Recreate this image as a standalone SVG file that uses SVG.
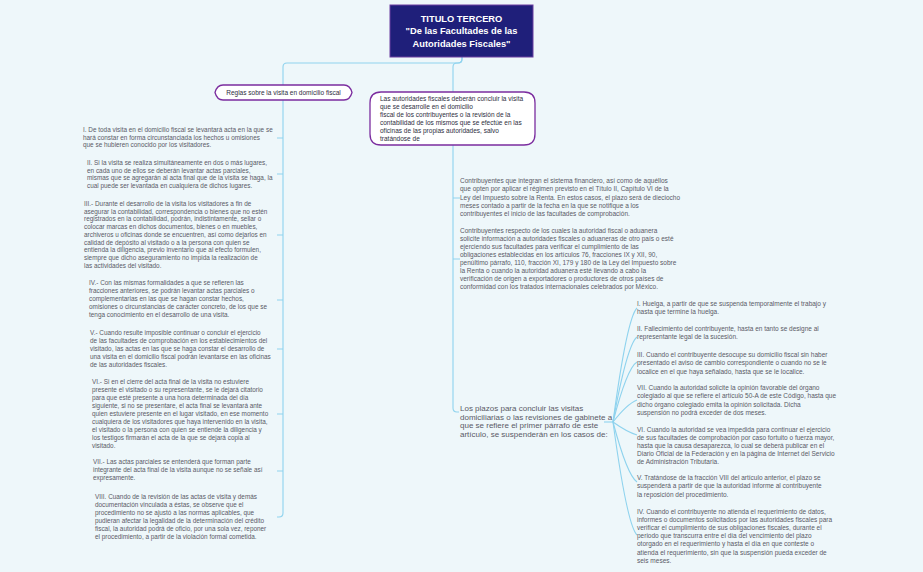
<svg xmlns="http://www.w3.org/2000/svg" width="923" height="572" viewBox="0 0 923 572">
<style>
.bg{fill:#eef7fa}
.ln{fill:none;stroke:#8fd3ee;stroke-width:1.1}
.t{font-family:"Liberation Sans",Arial,sans-serif;font-size:6.4px;fill:#5a5a66}
.m{font-family:"Liberation Sans",Arial,sans-serif;font-size:6.5px;fill:#5a5a66}
.p{font-family:"Liberation Sans",Arial,sans-serif;font-size:8px;fill:#5a5a66}
.nd{fill:#ffffff;stroke:#7b2d9f;stroke-width:1.3}
.nt{font-family:"Liberation Sans",Arial,sans-serif;font-size:6.5px;fill:#2e2e40}
.tt{font-family:"Liberation Sans",Arial,sans-serif;font-size:9.3px;font-weight:bold;fill:#ffffff}
</style>
<rect class="bg" x="0" y="0" width="923" height="572"/>
<g id="connectors">
<path class="ln" d="M462,57 V59 Q462,63 458,63 H287 Q283,63 283,67 V85"/>
<path class="ln" d="M462,57 V59 Q462,63 458,63 H457 Q453,63 453,67 V92"/>
<path class="ln" d="M283,100 V513 Q283,517 279,517 H277"/>
<path class="ln" d="M277,138 H283 M277,174 H283 M277,235 H283 M277,300 H283 M277,349 H283 M277,414 H283 M277,471 H283"/>
<path class="ln" d="M453,145 V408 Q453,412 457,412 H459"/>
<path class="ln" d="M453,198 H460 M453,259 H460"/>
<path class="ln" d="M604,422 H613"/>
<path class="ln" d="M613,422 Q627,318 637,308"/>
<path class="ln" d="M613,422 Q627,345 637,337"/>
<path class="ln" d="M613,422 Q627,368 637,362"/>
<path class="ln" d="M613,422 Q627,404 637,400"/>
<path class="ln" d="M613,422 Q627,432 637,435"/>
<path class="ln" d="M613,422 Q627,475 637,482"/>
<path class="ln" d="M613,422 Q627,525 637,535"/>
</g>
<g id="title">
<rect x="390" y="5" width="143" height="52" fill="#1f1f7a" stroke="#6b3fa0" stroke-width="1"/>
<text class="tt" text-anchor="middle"><tspan x="461.5" y="21.5">TITULO TERCERO</tspan><tspan x="461.5" y="34">"De las Facultades de las</tspan><tspan x="461.5" y="46.5">Autoridades Fiscales"</tspan></text>
</g>
<g id="reglas">
<path class="nd" d="M223,85 H344 Q350,85 352,92.5 Q350,100 344,100 H223 Q217,100 215,92.5 Q217,85 223,85 Z"/>
<text class="nt" x="283.5" y="95" text-anchor="middle" font-size="6.6px">Reglas sobre la visita en domicilio fiscal</text>
</g>
<g id="autoridades">
<path class="nd" d="M381,92 H524 Q535,92 535,103 V134 Q535,145 524,145 H381 Q370,145 370,134 V103 Q370,92 381,92 Z"/>
<text class="nt"><tspan x="380" y="100.5">Las autoridades fiscales deberán concluir la visita</tspan><tspan x="380" y="108.6">que se desarrolle en el domicilio</tspan><tspan x="380" y="116.7">fiscal de los contribuyentes o la revisión de la</tspan><tspan x="380" y="124.8">contabilidad de los mismos que se efectúe en las</tspan><tspan x="380" y="132.9">oficinas de las propias autoridades, salvo</tspan><tspan x="380" y="141">tratándose de</tspan></text>
</g>
<g id="regla-1">
<text class="t"><tspan x="83" y="132">I. De toda visita en el domicilio fiscal se levantará acta en la que se</tspan><tspan x="83" y="139.7">hará constar en forma circunstanciada los hechos u omisiones</tspan><tspan x="83" y="147.4">que se hubieren conocido por los visitadores.</tspan></text>
</g>
<g id="regla-2">
<text class="t"><tspan x="87" y="165">II. Si la visita se realiza simultáneamente en dos o más lugares,</tspan><tspan x="87" y="172.7">en cada uno de ellos se deberán levantar actas parciales,</tspan><tspan x="87" y="180.4">mismas que se agregarán al acta final que de la visita se haga, la</tspan><tspan x="87" y="188.1">cual puede ser levantada en cualquiera de dichos lugares.</tspan></text>
</g>
<g id="regla-3">
<text class="t"><tspan x="84" y="206">III.- Durante el desarrollo de la visita los visitadores a fin de</tspan><tspan x="84" y="213.7">asegurar la contabilidad, correspondencia o bienes que no estén</tspan><tspan x="84" y="221.4">registrados en la contabilidad, podrán, indistintamente, sellar o</tspan><tspan x="84" y="229.1">colocar marcas en dichos documentos, bienes o en muebles,</tspan><tspan x="84" y="236.8">archiveros u oficinas donde se encuentren, así como dejarlos en</tspan><tspan x="84" y="244.5">calidad de depósito al visitado o a la persona con quien se</tspan><tspan x="84" y="252.2">entienda la diligencia, previo inventario que al efecto formulen,</tspan><tspan x="84" y="259.9">siempre que dicho aseguramiento no impida la realización de</tspan><tspan x="84" y="267.6">las actividades del visitado.</tspan></text>
</g>
<g id="regla-4">
<text class="t"><tspan x="89" y="285">IV.- Con las mismas formalidades a que se refieren las</tspan><tspan x="89" y="292.9">fracciones anteriores, se podrán levantar actas parciales o</tspan><tspan x="89" y="300.8">complementarias en las que se hagan constar hechos,</tspan><tspan x="89" y="308.7">omisiones o circunstancias de carácter concreto, de los que se</tspan><tspan x="89" y="316.6">tenga conocimiento en el desarrollo de una visita.</tspan></text>
</g>
<g id="regla-5">
<text class="t"><tspan x="90" y="335">V.- Cuando resulte imposible continuar o concluir el ejercicio</tspan><tspan x="90" y="343">de las facultades de comprobación en los establecimientos del</tspan><tspan x="90" y="351">visitado, las actas en las que se haga constar el desarrollo de</tspan><tspan x="90" y="359">una visita en el domicilio fiscal podrán levantarse en las oficinas</tspan><tspan x="90" y="367">de las autoridades fiscales.</tspan></text>
</g>
<g id="regla-6">
<text class="t"><tspan x="92" y="384">VI.- Si en el cierre del acta final de la visita no estuviere</tspan><tspan x="92" y="392">presente el visitado o su representante, se le dejará citatorio</tspan><tspan x="92" y="400">para que esté presente a una hora determinada del día</tspan><tspan x="92" y="408">siguiente, si no se presentare, el acta final se levantará ante</tspan><tspan x="92" y="416">quien estuviere presente en el lugar visitado, en ese momento</tspan><tspan x="92" y="424">cualquiera de los visitadores que haya intervenido en la visita,</tspan><tspan x="92" y="432">el visitado o la persona con quien se entiende la diligencia y</tspan><tspan x="92" y="440">los testigos firmarán el acta de la que se dejará copia al</tspan><tspan x="92" y="448">visitado.</tspan></text>
</g>
<g id="regla-7">
<text class="t"><tspan x="93" y="464">VII.- Las actas parciales se entenderá que forman parte</tspan><tspan x="93" y="472.2">integrante del acta final de la visita aunque no se señale así</tspan><tspan x="93" y="480.4">expresamente.</tspan></text>
</g>
<g id="regla-8">
<text class="t"><tspan x="95" y="499">VIII. Cuando de la revisión de las actas de visita y demás</tspan><tspan x="95" y="506.9">documentación vinculada a éstas, se observe que el</tspan><tspan x="95" y="514.8">procedimiento no se ajustó a las normas aplicables, que</tspan><tspan x="95" y="522.7">pudieran afectar la legalidad de la determinación del crédito</tspan><tspan x="95" y="530.6">fiscal, la autoridad podrá de oficio, por una sola vez, reponer</tspan><tspan x="95" y="538.5">el procedimiento, a partir de la violación formal cometida.</tspan></text>
</g>
<g id="contribuyentes-1">
<text class="m"><tspan x="460" y="183">Contribuyentes que integran el sistema financiero, así como de aquéllos</tspan><tspan x="460" y="191.2">que opten por aplicar el régimen previsto en el Título II, Capítulo VI de la</tspan><tspan x="460" y="199.5">Ley del Impuesto sobre la Renta. En estos casos, el plazo será de dieciocho</tspan><tspan x="460" y="207.7">meses contado a partir de la fecha en la que se notifique a los</tspan><tspan x="460" y="216">contribuyentes el inicio de las facultades de comprobación.</tspan></text>
</g>
<g id="contribuyentes-2">
<text class="m"><tspan x="460" y="233">Contribuyentes respecto de los cuales la autoridad fiscal o aduanera</tspan><tspan x="460" y="241">solicite información a autoridades fiscales o aduaneras de otro país o esté</tspan><tspan x="460" y="249">ejerciendo sus facultades para verificar el cumplimiento de las</tspan><tspan x="460" y="257">obligaciones establecidas en los artículos 76, fracciones IX y XII, 90,</tspan><tspan x="460" y="265">penúltimo párrafo, 110, fracción XI, 179 y 180 de la Ley del Impuesto sobre</tspan><tspan x="460" y="273">la Renta o cuando la autoridad aduanera esté llevando a cabo la</tspan><tspan x="460" y="281">verificación de origen a exportadores o productores de otros países de</tspan><tspan x="460" y="289">conformidad con los tratados internacionales celebrados por México.</tspan></text>
</g>
<g id="plazos">
<text class="p"><tspan x="460" y="411">Los plazos para concluir las visitas</tspan><tspan x="460" y="419.6">domiciliarias o las revisiones de gabinete a</tspan><tspan x="460" y="428.2">que se refiere el primer párrafo de este</tspan><tspan x="460" y="436.8">artículo, se suspenderán en los casos de:</tspan></text>
</g>
<g id="caso-1">
<text class="m"><tspan x="637" y="306">I. Huelga, a partir de que se suspenda temporalmente el trabajo y</tspan><tspan x="637" y="314.2">hasta que termine la huelga.</tspan></text>
</g>
<g id="caso-2">
<text class="m"><tspan x="637" y="331">II. Fallecimiento del contribuyente, hasta en tanto se designe al</tspan><tspan x="637" y="339.3">representante legal de la sucesión.</tspan></text>
</g>
<g id="caso-3">
<text class="m"><tspan x="637" y="357">III. Cuando el contribuyente desocupe su domicilio fiscal sin haber</tspan><tspan x="637" y="365.3">presentado el aviso de cambio correspondiente o cuando no se le</tspan><tspan x="637" y="373.6">localice en el que haya señalado, hasta que se le localice.</tspan></text>
</g>
<g id="caso-7">
<text class="m"><tspan x="637" y="390">VII. Cuando la autoridad solicite la opinión favorable del órgano</tspan><tspan x="637" y="398.3">colegiado al que se refiere el artículo 50-A de este Código, hasta que</tspan><tspan x="637" y="406.6">dicho órgano colegiado emita la opinión solicitada. Dicha</tspan><tspan x="637" y="414.9">suspensión no podrá exceder de dos meses.</tspan></text>
</g>
<g id="caso-6">
<text class="m"><tspan x="637" y="432">VI. Cuando la autoridad se vea impedida para continuar el ejercicio</tspan><tspan x="637" y="440">de sus facultades de comprobación por caso fortuito o fuerza mayor,</tspan><tspan x="637" y="448">hasta que la causa desaparezca, lo cual se deberá publicar en el</tspan><tspan x="637" y="456">Diario Oficial de la Federación y en la página de Internet del Servicio</tspan><tspan x="637" y="464">de Administración Tributaria.</tspan></text>
</g>
<g id="caso-5">
<text class="m"><tspan x="637" y="480">V. Tratándose de la fracción VIII del artículo anterior, el plazo se</tspan><tspan x="637" y="488.3">suspenderá a partir de que la autoridad informe al contribuyente</tspan><tspan x="637" y="496.6">la reposición del procedimiento.</tspan></text>
</g>
<g id="caso-4">
<text class="m"><tspan x="637" y="514">IV. Cuando el contribuyente no atienda el requerimiento de datos,</tspan><tspan x="637" y="522.1">informes o documentos solicitados por las autoridades fiscales para</tspan><tspan x="637" y="530.2">verificar el cumplimiento de sus obligaciones fiscales, durante el</tspan><tspan x="637" y="538.3">periodo que transcurra entre el día del vencimiento del plazo</tspan><tspan x="637" y="546.4">otorgado en el requerimiento y hasta el día en que conteste o</tspan><tspan x="637" y="554.5">atienda el requerimiento, sin que la suspensión pueda exceder de</tspan><tspan x="637" y="562.6">seis meses.</tspan></text>
</g>
</svg>
